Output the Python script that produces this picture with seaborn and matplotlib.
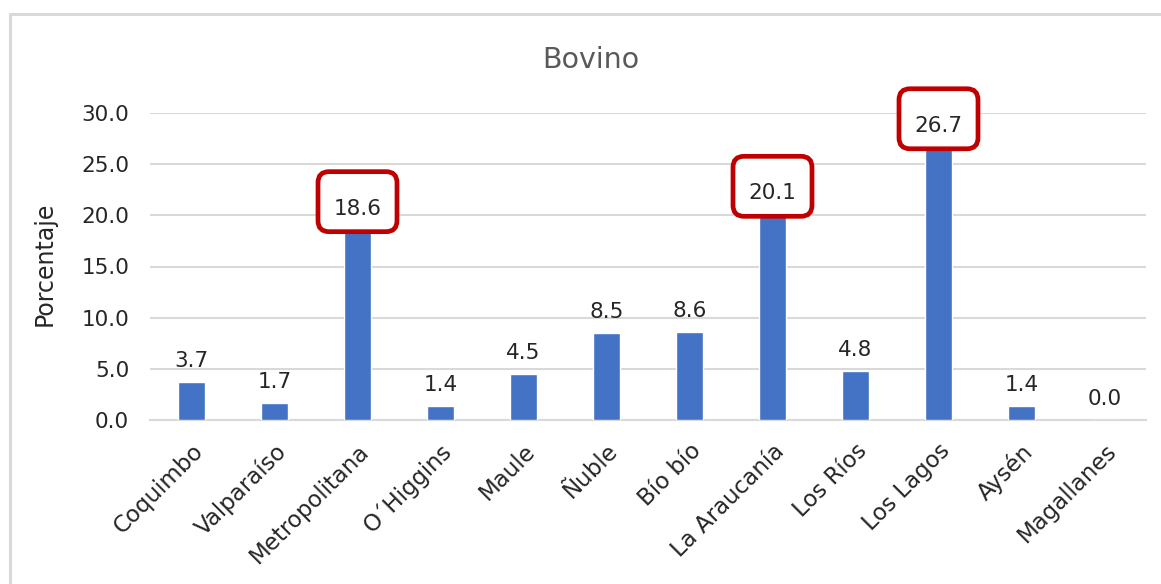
import matplotlib
matplotlib.use("Agg")
import matplotlib.pyplot as plt
import seaborn as sns
import pandas as pd
from matplotlib.lines import Line2D
from matplotlib.patches import FancyBboxPatch
from matplotlib.transforms import ScaledTranslation

# Data
regiones = ["Coquimbo", "Valparaíso", "Metropolitana", "O´Higgins", "Maule", "Ñuble",
            "Bío bío", "La Araucanía", "Los Ríos", "Los Lagos", "Aysén", "Magallanes"]
porcentaje = [3.7, 1.7, 18.6, 1.4, 4.5, 8.5, 8.6, 20.1, 4.8, 26.7, 1.4, 0.0]
destacados = ["Metropolitana", "La Araucanía", "Los Lagos"]
y_ticks = [0, 5, 10, 15, 20, 25, 30]

BLUE = "#4472C4"
GRID = "#d9d9d9"
RED = "#C00000"
TXT = "#262626"


def main():
    sns.set_theme(style="white")
    plt.rcParams["font.family"] = ["DejaVu Sans"]

    df = pd.DataFrame({"Region": regiones, "Porcentaje": porcentaje})

    fig = plt.figure(figsize=(11.61, 5.84), dpi=100)
    ax = fig.add_axes([150 / 1161, 1 - 420 / 584, 996 / 1161, 307 / 584])

    sns.barplot(data=df, x="Region", y="Porcentaje", color=BLUE, width=0.32,
                saturation=1, ax=ax, zorder=3)

    ax.set_ylim(0, 30)
    ax.set_xlim(-0.5, len(regiones) - 0.5)
    ax.set_yticks(y_ticks)
    ax.set_yticklabels([f"{v:.1f}" for v in y_ticks], fontsize=15.5, color=TXT)
    ax.yaxis.grid(True, color=GRID, linewidth=1.5, zorder=0)
    ax.tick_params(axis="y", length=0, pad=15)

    # x tick labels at centres, tick marks between categories
    ax.set_xticks(range(len(regiones)))
    ax.set_xticklabels(regiones, rotation=45, ha="right", rotation_mode="anchor",
                       fontsize=16.5, color=TXT)
    ax.tick_params(axis="x", which="major", length=0, pad=14)
    ax.set_xticks([i - 0.5 for i in range(len(regiones) + 1)], minor=True)
    ax.tick_params(axis="x", which="minor", length=6, width=1.5, color=GRID)
    ax.set_xlabel("")
    ax.set_ylabel("")

    for side in ["top", "right", "left"]:
        ax.spines[side].set_visible(False)
    ax.spines["bottom"].set_color(GRID)
    ax.spines["bottom"].set_linewidth(1.5)

    # value labels
    for i, (reg, val) in enumerate(zip(regiones, porcentaje)):
        ax.annotate(f"{val:.1f}", (i, val), xytext=(0, 15), textcoords="offset points",
                    ha="center", va="center", fontsize=15.5, color=TXT, zorder=6,
                    annotation_clip=False)
        if reg in destacados:
            # highlight box, sized in inches around the bar top
            tr = fig.dpi_scale_trans + ScaledTranslation(i, val, ax.transData)
            box = FancyBboxPatch((-0.395, -0.02), 0.79, 0.60,
                                 boxstyle="round,pad=0,rounding_size=0.11",
                                 transform=tr, fc="white", ec=RED, lw=3.4,
                                 zorder=5, clip_on=False)
            ax.add_patch(box)

    fig.text(591 / 1161, 1 - 60 / 584, "Bovino", ha="center", va="center",
             fontsize=20.5, color="#595959")
    fig.text(45 / 1161, 1 - 264 / 584, "Porcentaje", ha="center", va="center",
             rotation=90, fontsize=17, color=TXT)

    # chart area border (top and left visible)
    fig.add_artist(Line2D([10 / 1161, 1.0], [1 - 14 / 584, 1 - 14 / 584],
                          transform=fig.transFigure, color=GRID, linewidth=2.2))
    fig.add_artist(Line2D([10 / 1161, 10 / 1161], [0.0, 1 - 14 / 584],
                          transform=fig.transFigure, color=GRID, linewidth=2.2))

    fig.savefig("out.png", dpi=100)


if __name__ == "__main__":
    main()
